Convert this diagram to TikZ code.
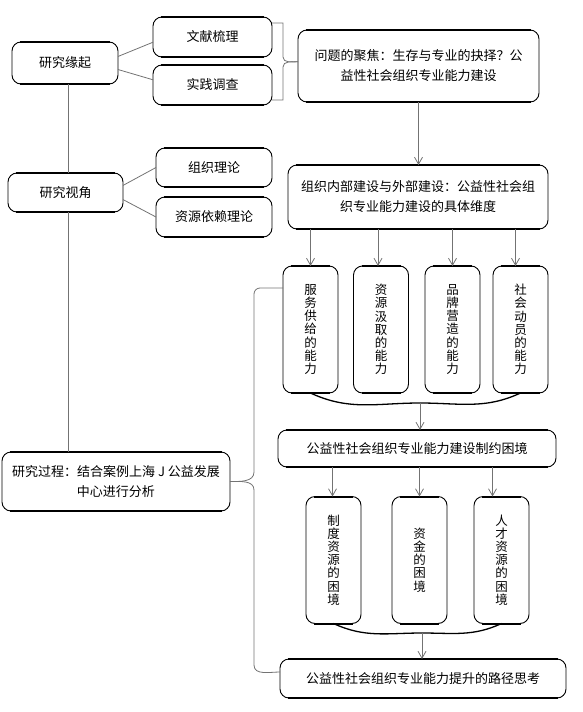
\documentclass[tikz,border=0pt]{standalone}
\usepackage{fontspec}
\newfontfamily\cjk{Noto Sans CJK SC}
\usetikzlibrary{arrows.meta}
\definecolor{linkgray}{RGB}{115,115,115}
\tikzset{
  box/.style={draw, rounded corners=9pt, outer sep=0pt, inner sep=2pt, align=center,
    line width=0.9pt, font=\cjk\fontsize{13}{20}\selectfont},
  colbox/.style={box, minimum width=55pt, minimum height=127pt,
    font=\cjk\fontsize{12.5}{13.2}\selectfont},
  link/.style={draw=linkgray, line width=0.8pt},
  flow/.style={link, -{Straight Barb[length=7pt,width=8pt]}},
  bow/.style={draw=black, line width=1.3pt},
}

\begin{document}
\begin{tikzpicture}[x=1pt,y=-1pt]
  \useasboundingbox (0,0) rectangle (583,712);
  \path
    (65,63) node[box, minimum width=106pt, minimum height=42pt] (origin){研究缘起}
    (212.5,37) node[box, minimum width=119pt, minimum height=40pt] (lit){文献梳理}
    (212.5,85) node[box, minimum width=119pt, minimum height=40pt] (survey){实践调查}
    (65.5,192.5) node[box, minimum width=115pt, minimum height=39pt] (view){研究视角}
    (214,167.5) node[box, minimum width=116pt, minimum height=39pt] (orgthy){组织理论}
    (214,217) node[box, minimum width=116pt, minimum height=40pt] (resthy){资源依赖理论}
    (116,481.5) node[box, minimum width=228pt, minimum height=59pt] (process){研究过程：结合案例上海 J 公益发展\\中心进行分析}
    (418.5,66) node[box, minimum width=241pt, minimum height=72pt] (problem){问题的聚焦：生存与专业的抉择？公\\益性社会组织专业能力建设}
    (418,197) node[box, minimum width=260pt, minimum height=64pt] (dims){组织内部建设与外部建设：公益性社会组\\织专业能力建设的具体维度}
    (310.5,329.5) node[colbox] (cap1){服\\务\\供\\给\\的\\能\\力}
    (381,329.5) node[colbox] (cap2){资\\源\\汲\\取\\的\\能\\力}
    (452.5,329.5) node[colbox] (cap3){品\\牌\\营\\造\\的\\能\\力}
    (520.5,329.5) node[colbox] (cap4){社\\会\\动\\员\\的\\能\\力}
    (417,448.5) node[box, minimum width=278pt, minimum height=37pt] (plight){公益性社会组织专业能力建设制约困境}
    (333.5,560) node[colbox] (dil1){制\\度\\资\\源\\的\\困\\境}
    (419.5,560) node[colbox] (dil2){资\\金\\的\\困\\境}
    (501.5,560) node[colbox] (dil3){人\\才\\资\\源\\的\\困\\境}
    (423,678.5) node[box, minimum width=286pt, minimum height=39pt] (path){公益性社会组织专业能力提升的路径思考};

  % heavier top and bottom edges
  \foreach \n in {origin,lit,survey,view,orgthy,resthy,process,problem,dims,
                  cap1,cap2,cap3,cap4,plight,dil1,dil2,dil3,path}
    \draw[line width=2pt] ([xshift=8pt]\n.north west) -- ([xshift=-8pt]\n.north east)
      ([xshift=8pt]\n.south west) -- ([xshift=-8pt]\n.south east);

  \begin{scope}[link]
    \draw (origin.7) -- (lit.185);
    \draw (origin.-7) -- (survey.175);
    \draw (view.7) -- (orgthy.west);
    \draw (view.-7) -- (resthy.west);
    \draw (origin.south -| 68,0) -- (view.north -| 68,0);
    \draw (view.south -| 68,0) -- (process.north -| 68,0);
    % brace to the question
    \draw (lit.east |- 0,23) -- (283,23) -- (283,57) to[out=-90,in=180] (problem.178);
    \draw (survey.east |- 0,100) -- (283,100) -- (283,67) to[out=90,in=180] (problem.178);
    % brace from the case study
    \draw (cap1.west |- 0,288) -- (260,288) to[out=180,in=90] (254,294) -- (254,472)
      to[out=-90,in=0] (process.east);
    \draw (process.east) to[out=0,in=90] (254,490) -- (254,665)
      to[out=-90,in=180] (path.west |- 0,672);
  \end{scope}

  \begin{scope}[flow]
    \draw (problem.south) -- (problem.south |- dims.north);
    \foreach \n/\s in {cap1/0,cap2/-3,cap3/0,cap4/-5}
      \draw ([xshift=\s pt]\n.north |- dims.south) -- ([xshift=\s pt]\n.north);
    \foreach \n/\s in {dil1/-1,dil2/0,dil3/-9}
      \draw ([xshift=\s pt]\n.north |- plight.south) -- ([xshift=\s pt]\n.north);
  \end{scope}

  \coordinate (capjoin) at (420,403);
  \coordinate (diljoin) at (422,633);
  \draw[bow] (cap1.south) to[out=-25,in=180] (capjoin) to[out=0,in=-155] (cap4.south);
  \draw[bow] (dil1.south) to[out=-25,in=180] (diljoin) to[out=0,in=-155] (dil3.south);
  \draw[flow] (capjoin) -- (capjoin |- plight.north);
  \draw[flow] (diljoin) -- (diljoin |- path.north);
\end{tikzpicture}
\end{document}
